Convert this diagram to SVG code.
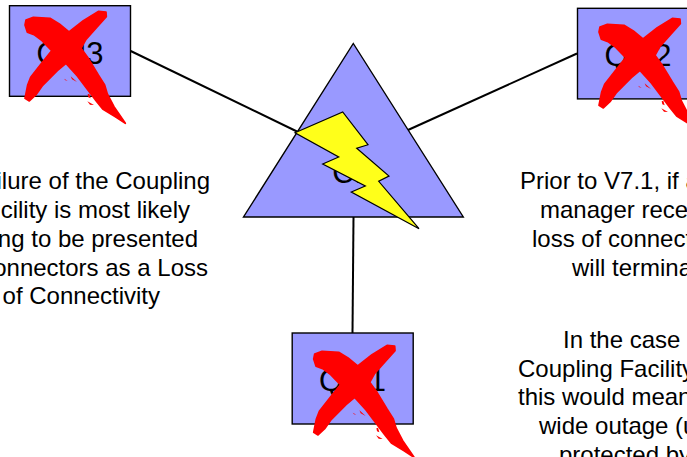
<svg xmlns="http://www.w3.org/2000/svg" width="687" height="457" viewBox="0 0 687 457">
<style>
.shape{fill:#9999ff;stroke:#000;stroke-width:1.4}
.lbl{font:31px "Liberation Sans",Arial,sans-serif;fill:#000;text-anchor:middle}
.t{font:24px "Liberation Sans",Arial,sans-serif;fill:#000}
.end{text-anchor:end}
.conn{stroke:#000;stroke-width:2;fill:none}
.x{fill:#ff0000}
.xb{stroke:#ff0000;stroke-width:5;stroke-linejoin:round}
</style>
<defs>
<g id="cross" transform="scale(.33333)">
<path class="x xb" d="M78 60L100 52L150 55L178 72L207 96L250 62L295 34L318 36L319 50L292 80L258 118L243 145L265 175L295 225L314 255L322 282L342 320L376 370L345 350L308 327L288 302L262 268L232 228L198 190L172 212L128 256L108 284L88 303L75 295L83 255L92 232L126 188L155 152L126 122L102 104L82 97L75 75Z"/>
<path class="x" d="M192 236L203 242L196 241ZM212 229L231 246L216 238ZM263 283L268 281L272 295L265 292ZM262 304L282 315L270 314Z"/>
</g>
</defs>
<g id="connectors">
<path class="conn" d="M130.7 51L298 132"/>
<path class="conn" d="M577 53.5L408 130"/>
<path class="conn" d="M353.5 217L352.5 333"/>
</g>
<g id="QM3"><rect class="shape" x="9.5" y="5.7" width="121" height="90.6"/><text class="lbl" x="70" y="64">QM3</text><use href="#cross"/></g>
<g id="QM2"><rect class="shape" x="577.5" y="8.3" width="121" height="90.6"/><text class="lbl" x="638" y="66">QM2</text><use href="#cross" transform="translate(574 7)"/></g>
<g id="QM1"><rect class="shape" x="292.2" y="333" width="121" height="91"/><text class="lbl" x="352.5" y="391">QM1</text><use href="#cross" transform="translate(288.7 334)"/></g>
<g id="CF"><path class="shape" d="M353.3 43.5L463.3 217L243.5 217Z"/><text class="lbl" x="353" y="183">CF</text></g>
<g id="failure"><path d="M295 132.7L342.7 112L368 144.7L356.7 148.3L389 176L378.7 181.3L419 228.7L351.3 192L365.3 186L322.7 164L338.7 157Z" fill="#ffff1a" stroke="#000" stroke-width="1.2"/></g>
<g id="note-left">
<text class="t end" x="210" y="189">ilure of the Coupling</text>
<text class="t end" x="190" y="218">cility is most likely</text>
<text class="t end" x="198" y="247">ng to be presented</text>
<text class="t end" x="208" y="276">onnectors as a Loss</text>
<text class="t end" x="160" y="304">of Connectivity</text>
</g>
<g id="note-right">
<text class="t" x="520" y="189">Prior to V7.1, if a</text>
<text class="t" x="540" y="218">manager rece</text>
<text class="t" x="532" y="247">loss of connect</text>
<text class="t" x="572" y="276">will termina</text>
<text class="t" x="563" y="348">In the case</text>
<text class="t" x="518" y="377">Coupling Facility</text>
<text class="t" x="518" y="405">this would mean</text>
<text class="t" x="539" y="434">wide outage (u</text>
<text class="t" x="559" y="463">protected by</text>
</g>
</svg>
